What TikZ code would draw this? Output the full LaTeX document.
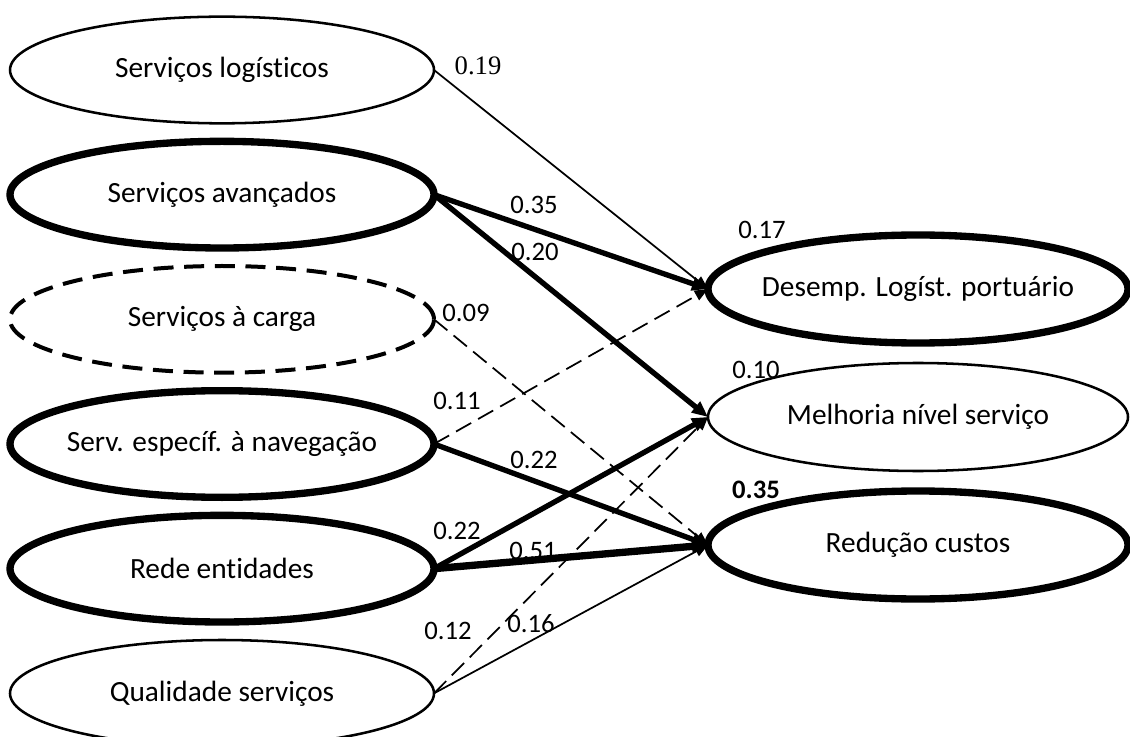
\documentclass[tikz,border=0pt]{standalone}
\usepackage{fontspec}
\setmainfont[Ligatures=NoCommon]{Carlito}
\newfontfamily\timesfont{Liberation Serif}
\usetikzlibrary{arrows.meta,positioning,shapes.geometric}

\begin{document}
\begin{tikzpicture}[
  x=0.75pt, y=-0.75pt,
  font=\fontsize{22}{26}\selectfont,
  lat/.style={ellipse, draw, minimum width=318pt, minimum height=80pt, inner xsep=-100pt, inner ysep=0pt, outer sep=0pt, line width=1.9pt},
  latb/.style={lat, line width=5.5pt},
  latd/.style={lat, line width=3pt, dash pattern=on 15pt off 8pt},
  endo/.style={lat, minimum width=315pt, minimum height=81pt},
  endob/.style={endo, line width=5.5pt},
  coef/.style={font=\fontsize{20}{24}\selectfont, inner sep=0pt},
  pthin/.style={-{Triangle[length=10pt,width=8pt]}, line width=1.3pt},
  pdash/.style={pthin, dash pattern=on 13pt off 6pt},
  pthick/.style={-{Triangle[length=12pt,width=10pt]}, line width=4pt},
  pbold/.style={pthick, line width=5.5pt}
]
\useasboundingbox (0,0) rectangle (1130,737);
\node[lat] (log) at (222,70) {Serviços logísticos};
\node[latb, below=13.5pt of log] (avan) {Serviços avançados};
\node[latd, below=13.5pt of avan] (carga) {Serviços à carga};
\node[latb, below=13.5pt of carga] (nav) {Serv. específ. à navegação};
\node[latb, below=13.5pt of nav] (rede) {Rede entidades};
\node[lat, below=13.5pt of rede] (qual) {Qualidade serviços};
\node[endob] (des) at (918,289) {Desemp. Logíst. portuário};
\node[endo, below=15pt of des] (mel) {Melhoria nível serviço};
\node[endob, below=15pt of mel] (red) {Redução custos};
\draw[pthin] (log.east) -- (des.west);
\draw[pthick] (avan.east) -- (des.west);
\draw[pthick] (avan.east) -- (mel.west);
\draw[pdash] (carga.east) -- (red.west);
\draw[pdash] (nav.east) -- (des.west);
\draw[pthick] (nav.east) -- (red.west);
\draw[pthick] (rede.east) -- (mel.west);
\draw[pbold] (rede.east) -- (red.west);
\draw[pdash] (qual.east) -- (mel.west);
\draw[pthin] (qual.east) -- (red.west);
\node[coef, font=\fontsize{20}{24}\timesfont] (c19) at (478,66) {0.19};
\node[coef] (c35) at (534,205) {0.35};
\node[coef] (c20) at (535,252) {0.20};
\node[coef] (c09) at (466,313) {0.09};
\node[coef] (c11) at (457,401) {0.11};
\node[coef] (c22n) at (534,460) {0.22};
\node[coef] (c22r) at (457,531) {0.22};
\node[coef] (c51) at (533,551) {0.51};
\node[coef] (c12) at (448,631) {0.12};
\node[coef] (c16) at (531,624) {0.16};
\node[coef] (r17) at (762,230) {0.17};
\node[coef] (r10) at (756,370) {0.10};
\node[coef, font=\fontsize{20}{24}\selectfont\bfseries] (r35) at (756,490) {0.35};
\end{tikzpicture}
\end{document}
